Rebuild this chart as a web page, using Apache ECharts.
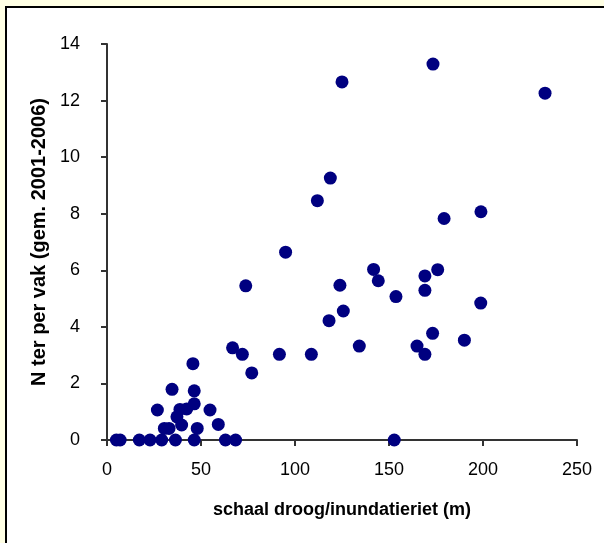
<!DOCTYPE html>
<html>
<head>
<meta charset="utf-8">
<script src="https://cdn.jsdelivr.net/npm/echarts@6/dist/echarts.min.js"></script>
<style>
  html, body { margin: 0; padding: 0; background: #FFFFE4; }
  #chart { width: 604px; height: 543px; }
</style>
</head>
<body>
<div id="chart"></div>
<script>
var xTitle = 'schaal droog/inundatieriet (m)';
var yTitle = 'N ter per vak (gem. 2001-2006)';

// schaal (m)
var schaal = [173.4, 125, 233, 118.8, 111.9, 179.3, 198.9, 95, 73.8, 123.9,
  141.8, 144.3, 169.1, 175.9, 169.1, 153.7, 198.8, 125.7, 118.1, 173.2,
  190.1, 66.8, 72.0, 91.7, 108.7, 134.2, 164.9, 169.1, 77, 152.8,
  5, 7, 17.2, 22.9, 29.1, 36.4, 46.4, 63, 68.4, 26.8,
  34.6, 45.7, 46.4, 46.4, 38.8, 42.4, 37.2, 39.7, 33, 30.5,
  48, 54.8, 59.2];
// N ter per vak
var nTer = [13.29, 12.66, 12.26, 9.26, 8.46, 7.83, 8.07, 6.64, 5.45, 5.47,
  6.03, 5.63, 5.80, 6.02, 5.29, 5.07, 4.84, 4.56, 4.22, 3.77,
  3.53, 3.26, 3.03, 3.03, 3.03, 3.32, 3.32, 3.03, 2.37, 0,
  0, 0, 0, 0, 0, 0, 0, 0, 0, 1.06,
  1.79, 2.70, 1.74, 1.28, 1.08, 1.10, 0.82, 0.53, 0.41, 0.41,
  0.41, 1.06, 0.55];

var points = [];
for (var i = 0; i < schaal.length; i++) {
  points.push([schaal[i], nTer[i]]);
}

var chart = echarts.init(document.getElementById('chart'));
var font = '"Liberation Sans", Arial, sans-serif';

var option = {
  animation: false,
  backgroundColor: 'transparent',
  graphic: [{
    type: 'rect',
    z: -10,
    shape: { x: 6, y: 7, width: 640, height: 580 },
    style: { fill: '#ffffff', stroke: '#000000', lineWidth: 2 }
  }],
  grid: { left: 107, right: 27, top: 44, bottom: 103 },
  xAxis: {
    type: 'value',
    min: 0, max: 250, interval: 50,
    name: xTitle,
    nameLocation: 'middle',
    nameGap: 61,
    nameTextStyle: { color: '#000', fontFamily: font, fontSize: 18, fontWeight: 'bold' },
    axisLine: { onZero: false, lineStyle: { color: '#333', width: 2 } },
    axisTick: { length: 6, lineStyle: { color: '#333', width: 2 } },
    axisLabel: { color: '#000', fontFamily: font, fontSize: 18, margin: 21 },
    splitLine: { show: false }
  },
  yAxis: {
    type: 'value',
    min: 0, max: 14, interval: 2,
    name: yTitle,
    nameLocation: 'middle',
    nameGap: 43,
    nameTextStyle: { color: '#000', fontFamily: font, fontSize: 20, fontWeight: 'bold' },
    axisLine: { show: true, onZero: false, lineStyle: { color: '#333', width: 2 } },
    axisTick: { show: true, length: 6, lineStyle: { color: '#333', width: 2 } },
    axisLabel: { color: '#000', fontFamily: font, fontSize: 18, margin: 27 },
    splitLine: { show: false }
  },
  series: [{
    type: 'scatter',
    data: points,
    symbol: 'circle',
    symbolSize: 13,
    itemStyle: { color: '#000080', opacity: 1 },
    clip: false
  }]
};

chart.setOption(option);
</script>
</body>
</html>
